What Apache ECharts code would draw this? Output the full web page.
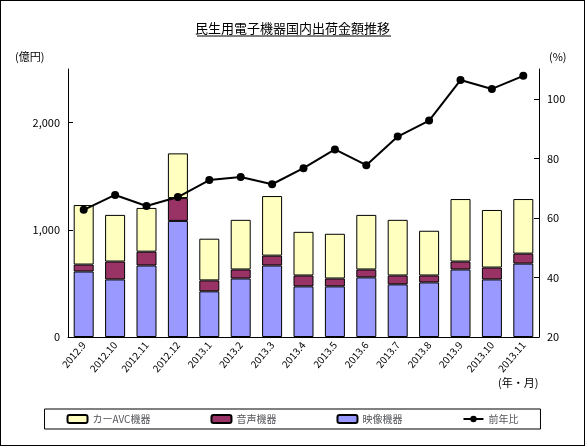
<!DOCTYPE html><html><head><meta charset="utf-8"><script src="https://cdn.jsdelivr.net/npm/echarts@6/dist/echarts.min.js"></script>
<style>body{margin:0}#c{width:585px;height:446px;box-sizing:border-box;border:1px solid #000}</style></head><body><div id="c"></div><script>
const categories=['2012.9','2012.10','2012.11','2012.12','2013.1','2013.2','2013.3','2013.4','2013.5','2013.6','2013.7','2013.8','2013.9','2013.10','2013.11'];
const video=[611,537,667,1083,426,546,667,472,472,556,491,509,630,537,685];
const audio=[65,167,129,213,102,84,92,102,74,74,83,65,74,111,93];
const carAvc=[555,435,408,417,389,463,556,407,417,509,519,417,583,537,509];
const yoy=[62.7,67.7,64,67,72.7,73.7,71.3,76.7,83,77.7,87.3,92.7,106.3,103.3,107.7];
const ch=echarts.init(document.getElementById('c'));
const f='"Noto Sans CJK JP",sans-serif';
const bar=(n,d,c)=>({name:n,type:'bar',stack:'a',data:d,barWidth:20,itemStyle:{color:c,borderColor:'#000',borderWidth:1}});
ch.setOption({animation:false,backgroundColor:'#fff',textStyle:{fontFamily:f,color:'#000'},
title:{text:'民生用電子機器国内出荷金額推移',left:'center',top:16,textStyle:{fontSize:13,fontWeight:'normal',color:'#000'}},
graphic:[{type:'line',shape:{x1:196,y1:35,x2:390,y2:35},style:{stroke:'#000',lineWidth:1}},
{type:'text',left:14,top:50,style:{text:'(億円)',font:'11px '+f}},{type:'text',left:548,top:50,style:{text:'(%)',font:'11px '+f}},{type:'text',left:497,top:376,style:{text:'(年・月)',font:'11px '+f}}],
legend:{bottom:16,left:'center',itemGap:60,borderColor:'#000',borderWidth:1,padding:[5,22],itemWidth:20,itemHeight:8,textStyle:{fontSize:10},data:['カーAVC機器','音声機器','映像機器','前年比']},
grid:{left:67,right:45,top:68,bottom:108},
xAxis:{type:'category',data:categories,axisTick:{show:false},axisLine:{lineStyle:{color:'#000'}},axisLabel:{rotate:50,fontSize:10,color:'#000',margin:6}},
yAxis:[{type:'value',min:0,max:2500,interval:1000,splitLine:{show:false},axisLine:{show:true,lineStyle:{color:'#000'}},axisTick:{show:true,inside:true},axisLabel:{showMaxLabel:false,fontSize:11,color:'#000',formatter:v=>v.toLocaleString('en-US')}},
{type:'value',min:20,max:110,interval:20,splitLine:{show:false},axisLine:{show:true,lineStyle:{color:'#000'}},axisTick:{show:true,inside:true},axisLabel:{showMaxLabel:false,fontSize:11,color:'#000'}}],
series:[bar('映像機器',video,'#9999FF'),bar('音声機器',audio,'#993366'),bar('カーAVC機器',carAvc,'#FFFFC0'),
{name:'前年比',type:'line',yAxisIndex:1,data:yoy,symbol:'circle',symbolSize:8,lineStyle:{color:'#000',width:2},itemStyle:{color:'#000'}}]});
</script></body></html>
